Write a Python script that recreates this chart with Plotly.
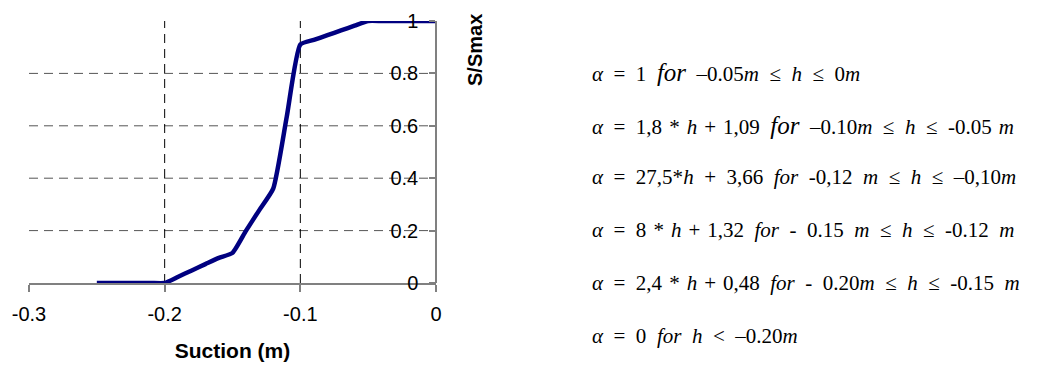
import plotly.graph_objects as go

# Data
suction = [-0.25, -0.24, -0.23, -0.22, -0.21, -0.20, -0.19, -0.18, -0.17, -0.16, -0.15,
           -0.14, -0.13, -0.12, -0.11, -0.10, -0.09, -0.08, -0.07, -0.06, -0.05,
           -0.04, -0.03, -0.02, -0.01, 0.0]
s_ratio = [0, 0, 0, 0, 0, 0, 0.024, 0.048, 0.072, 0.096, 0.115,
           0.20, 0.28, 0.36, 0.635, 0.91, 0.928, 0.946, 0.964, 0.982, 1.0,
           1.0, 1.0, 1.0, 1.0, 1.0]

x_ticks = [-0.3, -0.2, -0.1, 0]
x_tick_text = ["-0.3", "-0.2", "-0.1", "0"]
y_ticks = [0, 0.2, 0.4, 0.6, 0.8, 1]
y_tick_text = ["0", "0.2", "0.4", "0.6", "0.8", "1"]
x_grid = [-0.2, -0.1]
y_grid = [0.2, 0.4, 0.6, 0.8]

# Equation texts as segments: (text, italic, font-size or None)
# " " = wide space, "~" = narrow space
equations = [
    [("α", 1, None), (" = 1 ", 0, None), ("for", 1, 25), (" –0.05", 0, None), ("m", 1, None),
     (" ≤ ", 0, None), ("h", 1, None), (" ≤ 0", 0, None), ("m", 1, None)],
    [("α", 1, None), (" = 1,8~*~", 0, None), ("h", 1, None), ("~+~1,09 ", 0, None), ("for", 1, 25),
     (" –0.10", 0, None), ("m", 1, None), (" ≤ ", 0, None), ("h", 1, None), (" ≤ -0.05~", 0, None),
     ("m", 1, None)],
    [("α", 1, None), (" = 27,5*", 0, None), ("h", 1, None), (" + 3,66 ", 0, None), ("for", 1, None),
     (" -0,12 ", 0, None), ("m", 1, None), (" ≤ ", 0, None), ("h", 1, None), (" ≤ –0,10", 0, None),
     ("m", 1, None)],
    [("α", 1, None), (" = 8~*~", 0, None), ("h", 1, None), ("~+~1,32 ", 0, None), ("for", 1, None),
     (" - 0.15 ", 0, None), ("m", 1, None), (" ≤ ", 0, None), ("h", 1, None), (" ≤ -0.12 ", 0, None),
     ("m", 1, None)],
    [("α", 1, None), (" = 2,4~*~", 0, None), ("h", 1, None), ("~+~0,48 ", 0, None), ("for", 1, None),
     (" - 0.20", 0, None), ("m", 1, None), (" ≤ ", 0, None), ("h", 1, None), (" ≤ -0.15 ", 0, None),
     ("m", 1, None)],
    [("α", 1, None), (" = 0 ", 0, None), ("for", 1, None), (" ", 0, None), ("h", 1, None),
     (" &lt; –0.20", 0, None), ("m", 1, None)],
]

def seg_html(segs):
    out = []
    for text, ital, size in segs:
        text = text.replace(" ", "\u2002").replace("~", "\u2004")
        piece = text
        if size:
            piece = f"<span style='font-size:{size}px'>{piece}</span>"
        if ital:
            piece = f"<i>{piece}</i>"
        out.append(piece)
    return "".join(out)

W, H = 1037, 365
L, R, T, B = 29, 601, 21, 82
pw, ph = W - L - R, H - T - B

def px(x):
    return (x - L) / pw

def py(y):
    return (H - B - y) / ph

fig = go.Figure()
fig.add_trace(go.Scatter(
    x=suction, y=s_ratio, mode="lines",
    line=dict(color="#000080", width=4.5, shape="spline", smoothing=0.5),
    showlegend=False, hoverinfo="skip",
))

shapes = []
for g in y_grid:
    shapes.append(dict(type="line", xref="x", yref="y", x0=x_ticks[0], x1=x_ticks[-1],
                       y0=g, y1=g, layer="below",
                       line=dict(color="#555555", width=1, dash="9px,6px")))
for g in x_grid:
    shapes.append(dict(type="line", xref="x", yref="y", x0=g, x1=g,
                       y0=y_ticks[0], y1=y_ticks[-1], layer="below",
                       line=dict(color="#000000", width=1, dash="9px,6px")))

annotations = [dict(
    text="<b>S/Smax</b>", xref="paper", yref="paper", x=px(475), y=py(50),
    xanchor="center", yanchor="middle", textangle=-90, showarrow=False,
    font=dict(family="Liberation Sans, Arial", size=20, color="#000"),
)]
eq_y = [72, 125, 177, 230, 283, 336]
for segs, yy in zip(equations, eq_y):
    annotations.append(dict(
        text=seg_html(segs),
        xref="paper", yref="paper", x=px(590), y=py(yy),
        xanchor="left", yanchor="middle", showarrow=False,
        font=dict(family="Liberation Serif, Times New Roman", size=21, color="#000"),
    ))

fig.update_layout(
    width=W, height=H,
    margin=dict(l=L, r=R, t=T, b=B, pad=0, autoexpand=False),
    paper_bgcolor="white", plot_bgcolor="white",
    shapes=shapes, annotations=annotations,
    font=dict(family="Liberation Sans, Arial", size=20, color="#000"),
    xaxis=dict(
        range=[-0.3, 0], tickvals=x_ticks, ticktext=x_tick_text,
        showgrid=False, zeroline=False, showline=True, linecolor="#808080", linewidth=1.5,
        ticks="outside", ticklen=7, tickcolor="#808080", tickwidth=1.5,
        tickfont=dict(size=20, color="#000"), ticklabelstandoff=5,
        title=dict(text="<b>Suction (m)</b>", font=dict(size=21), standoff=20),
        automargin=False, fixedrange=True,
    ),
    yaxis=dict(
        range=[0, 1], tickvals=y_ticks, ticktext=y_tick_text,
        side="left", anchor="free", position=1,
        showgrid=False, zeroline=False, showline=True, linecolor="#808080", linewidth=1.5,
        ticks="outside", ticklen=6, tickcolor="#808080", tickwidth=1.5,
        tickfont=dict(size=20, color="#000"), ticklabelstandoff=7,
        automargin=False, fixedrange=True,
    ),
)

fig.write_html("out.html")
